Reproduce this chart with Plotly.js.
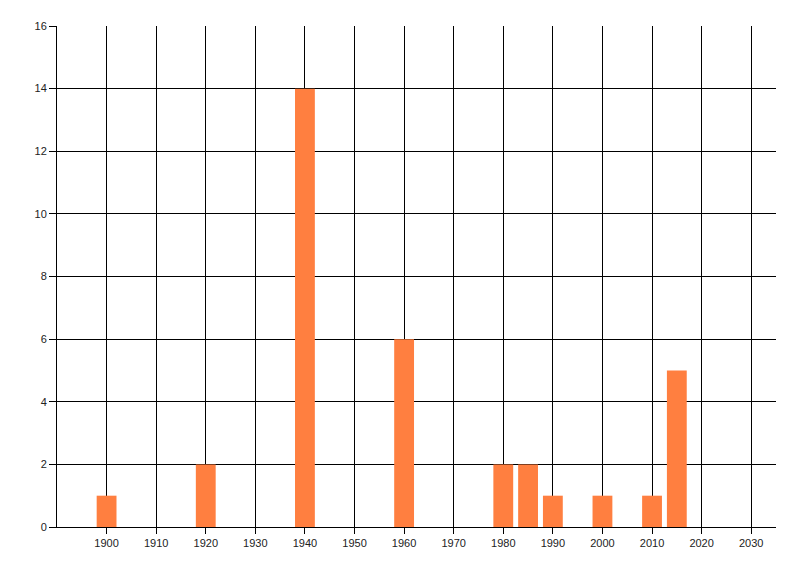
<!DOCTYPE html>
<html>
<head>
<meta charset="utf-8">
<script src="https://cdn.plot.ly/plotly-3.0.1.min.js"></script>
<style>
  html, body { margin: 0; padding: 0; background: #fff; }
  #chart { width: 800px; height: 576px; }
</style>
</head>
<body>
<div id="chart"></div>
<script>
// years and counts
const years = [1900, 1920, 1940, 1960, 1980, 1985, 1990, 2000, 2010, 2015];
const counts = [1, 2, 14, 6, 2, 2, 1, 1, 1, 5];
const xTicks = [1900, 1910, 1920, 1930, 1940, 1950, 1960, 1970, 1980, 1990, 2000, 2010, 2020, 2030];
const yTicks = [0, 2, 4, 6, 8, 10, 12, 14, 16];

const trace = {
   x: years,
   y: counts,
   type: 'bar',
   width: 4,
   marker: { color: '#FF7F40', line: { width: 0 } },
   hoverinfo: 'skip'
};

const axisFont = { family: 'Liberation Sans, Arial, sans-serif', size: 11, color: '#222' };

const layout = {
   width: 800,
   height: 576,
   margin: { l: 57, r: 24, t: 26, b: 49, pad: 0 },
   paper_bgcolor: '#fff',
   plot_bgcolor: '#fff',
   showlegend: false,
   xaxis: {
      range: [1890, 2035],
      tickvals: xTicks,
      ticktext: xTicks.map(String),
      showgrid: true,
      gridcolor: '#000',
      gridwidth: 1,
      showline: true,
      linecolor: '#000',
      linewidth: 1,
      ticks: 'outside',
      ticklen: 6,
      tickcolor: '#000',
      tickfont: axisFont,
      zeroline: false,
      fixedrange: true
   },
   yaxis: {
      range: [0, 16],
      tickvals: yTicks,
      ticktext: yTicks.map(String),
      showgrid: true,
      gridcolor: '#000',
      gridwidth: 1,
      showline: true,
      linecolor: '#000',
      linewidth: 1,
      ticks: 'outside',
      ticklen: 7,
      tickcolor: '#000',
      tickfont: axisFont,
      zeroline: false,
      fixedrange: true
   }
};

Plotly.newPlot('chart', [trace], layout, { displayModeBar: false, staticPlot: true });
</script>
</body>
</html>
